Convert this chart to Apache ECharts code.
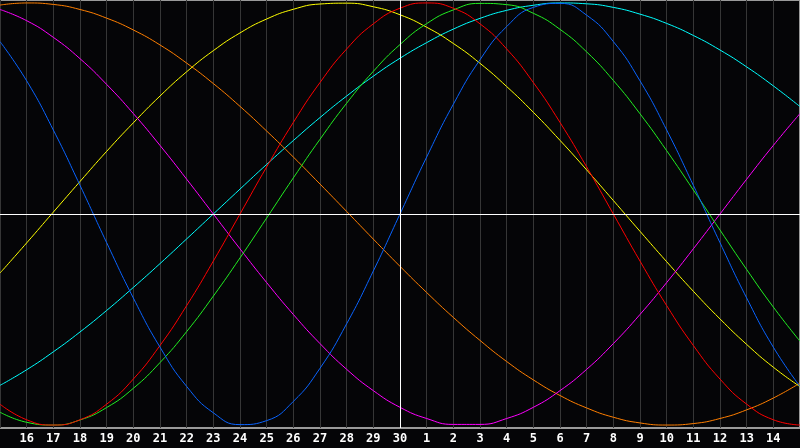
<!DOCTYPE html>
<html lang="en">
<head>
  <meta charset="UTF-8">
  <title>Biorhythm</title>
  <script src="https://cdn.jsdelivr.net/npm/echarts@6/dist/echarts.min.js"></script>
  <style>
    html, body { margin: 0; padding: 0; background: #050507; }
  </style>
</head>
<body>

  <div id="main" style="width: 800px;height:448px;"></div>

  <script type="text/javascript">
    // day labels under each grid line (index 0..30)
    const dayLabels = ['15','16','17','18','19','20','21','22','23','24','25','26','27','28','29','30',
                       '1','2','3','4','5','6','7','8','9','10','11','12','13','14','15'];

    // curve values read at each day, -1..1
    const physical = [0.817,0.631,0.398,0.136,-0.136,-0.398,-0.631,-0.817,-0.942,-0.998,-0.979,-0.888,-0.731,-0.520,-0.270,0,
                      0.270,0.520,0.731,0.888,0.979,0.998,0.942,0.817,0.631,0.398,0.136,-0.136,-0.398,-0.631,-0.817];
    const emotional = [-0.901,-0.975,-1,-0.975,-0.901,-0.782,-0.623,-0.434,-0.223,0,0.223,0.434,0.623,0.782,0.901,0.975,
                       1,0.975,0.901,0.782,0.623,0.434,0.223,0,-0.223,-0.434,-0.623,-0.782,-0.901,-0.975,-1];
    const intellectual = [-0.939,-0.987,-1.000,-0.976,-0.917,-0.826,-0.704,-0.557,-0.389,-0.208,-0.019,0.171,0.354,0.525,0.676,0.803,
                          0.902,0.967,0.998,0.992,0.951,0.875,0.768,0.633,0.475,0.300,0.114,-0.076,-0.263,-0.441,-0.603];
    const intuitive = [0.969,0.916,0.837,0.736,0.614,0.476,0.325,0.165,0,-0.165,-0.325,-0.476,-0.614,-0.736,-0.837,-0.916,
                       -0.969,-0.997,-0.997,-0.969,-0.916,-0.837,-0.736,-0.614,-0.476,-0.325,-0.165,0,0.165,0.325,0.476];
    const aesthetic = [-0.280,-0.137,0.009,0.154,0.297,0.432,0.559,0.674,0.774,0.858,0.924,0.970,0.995,0.999,0.982,0.944,
                       0.885,0.808,0.714,0.604,0.482,0.349,0.209,0.064,-0.082,-0.226,-0.366,-0.497,-0.618,-0.726,-0.818];
    const awareness = [0.990,1.000,0.993,0.969,0.928,0.872,0.801,0.715,0.618,0.510,0.393,0.270,0.142,0.012,-0.119,-0.248,
                       -0.372,-0.490,-0.599,-0.699,-0.786,-0.860,-0.919,-0.963,-0.990,-1.000,-0.993,-0.969,-0.928,-0.872,-0.801];
    const spiritual = [-0.812,-0.738,-0.653,-0.559,-0.457,-0.348,-0.235,-0.118,0,0.118,0.235,0.348,0.457,0.559,0.653,0.738,
                       0.812,0.876,0.927,0.965,0.989,1.000,0.996,0.979,0.947,0.903,0.846,0.777,0.697,0.607,0.509];

    const curves = [
      { name: 'Spiritual', data: spiritual, color: '#00ffff' },
      { name: 'Awareness', data: awareness, color: '#ff7f00' },
      { name: 'Aesthetic', data: aesthetic, color: '#ffff00' },
      { name: 'Intuitive', data: intuitive, color: '#ff00ff' },
      { name: 'Intellectual', data: intellectual, color: '#22ee22' },
      { name: 'Emotional', data: emotional, color: '#ff0000' },
      { name: 'Physical', data: physical, color: '#0a64ff' }
    ];

    let myChart = echarts.init(document.getElementById('main'));

    let series = curves.map(c => ({
      name: c.name,
      type: 'line',
      data: c.data.map((v, i) => [i, v]),
      smooth: true,
      showSymbol: false,
      lineStyle: { color: c.color, width: 1 },
      itemStyle: { color: c.color }
    }));

    // white cross: zero line and today
    series.push({
      type: 'line',
      data: [],
      markLine: {
        silent: true,
        symbol: 'none',
        label: { show: false },
        lineStyle: { color: '#ffffff', width: 1, type: 'solid' },
        data: [{ yAxis: 0 }, { xAxis: 15 }]
      }
    });

    let options = {
      backgroundColor: '#050507',
      animation: false,
      grid: {
        left: 0, right: 0, top: 0, bottom: 20,
        show: true,
        borderColor: '#9a9a9a',
        borderWidth: 2
      },
      xAxis: {
        type: 'value',
        min: 0,
        max: 30,
        interval: 1,
        axisLine: { show: false },
        axisTick: { show: false },
        splitLine: { show: true, lineStyle: { color: '#363636', width: 1 } },
        axisLabel: {
          showMinLabel: false,
          showMaxLabel: false,
          color: '#ffffff',
          fontFamily: 'DejaVu Sans Mono',
          fontWeight: 'bold',
          fontSize: 12,
          margin: 5,
          formatter: v => dayLabels[v]
        }
      },
      yAxis: {
        type: 'value',
        min: -1.014,
        max: 1.014,
        show: false,
        splitLine: { show: false }
      },
      series: series
    };

    myChart.setOption(options);
  </script>
</body>
</html>
